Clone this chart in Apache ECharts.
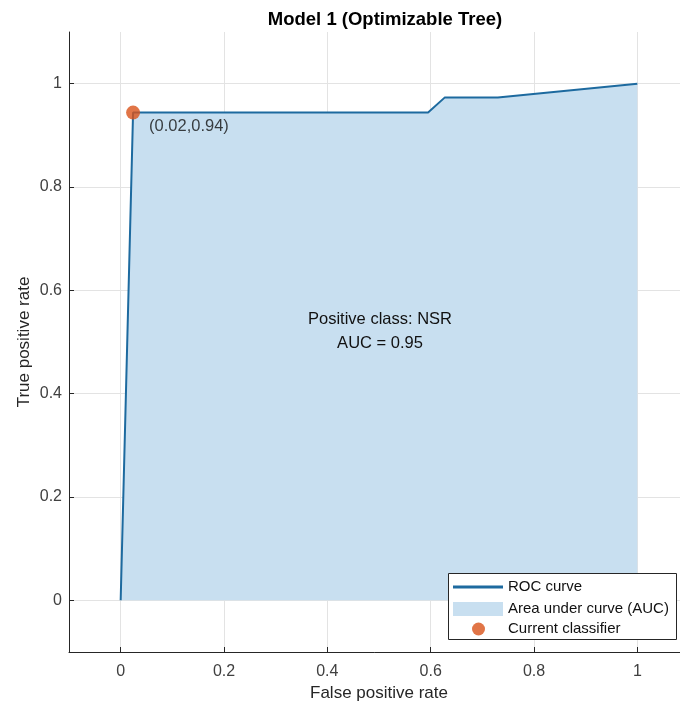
<!DOCTYPE html>
<html>
<head>
<meta charset="utf-8">
<title>Model 1 (Optimizable Tree)</title>
<script src="https://cdn.jsdelivr.net/npm/echarts@6/dist/echarts.min.js"></script>
<style>
  html, body { margin: 0; padding: 0; background: #ffffff; }
  #chart { width: 680px; height: 710px; }
</style>
</head>
<body>
<div id="chart"></div>
<script>
// ROC curve points (false positive rate, true positive rate)
const rocFpr = [0, 0.024, 0.595, 0.627, 0.73, 1];
const rocTpr = [0, 0.944, 0.944, 0.973, 0.973, 1];

// Operating point of the current classifier
const classifierPoint = [0.024, 0.944];

// Summary shown inside the plot
const positiveClass = 'NSR';
const aucValue = 0.95;

// Tick positions for both axes
const xTicks = [0, 0.2, 0.4, 0.6, 0.8, 1];
const yTicks = [0, 0.2, 0.4, 0.6, 0.8, 1];

const FONT = '"Liberation Sans", Arial, Helvetica, sans-serif';
const AXIS_COLOR = '#262626';
const LABEL_COLOR = '#404040';
const GRID_COLOR = '#e3e3e3';
const LINE_COLOR = '#1d6a9f';
const AREA_COLOR = '#c8dff0';
const POINT_COLOR = '#d95319';

const rocData = rocFpr.map((x, i) => [x, rocTpr[i]]);

const chart = echarts.init(document.getElementById('chart'), null, { renderer: 'canvas' });

const legendBase = {
  orient: 'vertical',
  left: 453,
  itemWidth: 50,
  itemGap: 0,
  selectedMode: false,
  z: 100,
  textStyle: { fontFamily: FONT, fontSize: 15, lineHeight: 18, color: '#111111' },
  padding: 0
};

chart.setOption({
  animation: false,
  backgroundColor: '#ffffff',
  title: {
    text: 'Model 1 (Optimizable Tree)',
    left: 380,
    textAlign: 'center',
    top: 5,
    textStyle: { fontFamily: FONT, fontSize: 18.5, fontWeight: 'bold', color: '#000000' }
  },
  grid: { left: 69, top: 32, width: 620, bottom: 58, containLabel: false, outerBoundsMode: 'none' },
  xAxis: {
    type: 'value',
    min: -0.1,
    max: 1.1,
    name: 'False positive rate',
    nameLocation: 'middle',
    nameGap: 33,
    nameMoveOverlap: false,
    nameTextStyle: { fontFamily: FONT, fontSize: 17, color: AXIS_COLOR },
    axisLine: { show: true, onZero: false, lineStyle: { color: AXIS_COLOR, width: 1 } },
    axisTick: { show: true, inside: true, length: 5, customValues: xTicks, lineStyle: { color: AXIS_COLOR } },
    axisLabel: {
      customValues: xTicks,
      margin: 12,
      fontFamily: FONT, fontSize: 16, color: LABEL_COLOR,
      formatter: v => String(+v.toFixed(1))
    },
    splitLine: { show: false }
  },
  yAxis: {
    type: 'value',
    min: -0.1,
    max: 1.1,
    name: 'True positive rate',
    nameLocation: 'middle',
    nameGap: 36,
    nameMoveOverlap: false,
    nameRotate: 90,
    nameTextStyle: { fontFamily: FONT, fontSize: 17, color: AXIS_COLOR },
    axisLine: { show: true, onZero: false, lineStyle: { color: AXIS_COLOR, width: 1 } },
    axisTick: { show: true, inside: true, length: 5, customValues: yTicks, lineStyle: { color: AXIS_COLOR } },
    axisLabel: {
      customValues: yTicks,
      margin: 7,
      fontFamily: FONT, fontSize: 16, color: LABEL_COLOR,
      formatter: v => String(+v.toFixed(1))
    },
    splitLine: { show: false }
  },
  legend: [
    Object.assign({}, legendBase, {
      top: 578, itemHeight: 3, data: [{ name: 'ROC curve', icon: 'rect' }]
    }),
    Object.assign({}, legendBase, {
      top: 600, itemHeight: 14, data: [{ name: 'Area under curve (AUC)', icon: 'rect', itemStyle: { color: AREA_COLOR } }]
    }),
    Object.assign({}, legendBase, {
      top: 620, left: 472, itemWidth: 13, itemHeight: 13,
      textStyle: Object.assign({}, legendBase.textStyle, { padding: [0, 0, 0, 18] }),
      data: [{ name: 'Current classifier', icon: 'circle' }]
    })
  ],
  graphic: [
    {
      type: 'rect',
      left: 448, top: 573,
      shape: { width: 228, height: 66 },
      style: { fill: '#ffffff', stroke: AXIS_COLOR, lineWidth: 1 },
      z: 50
    },
    {
      type: 'text',
      x: 380, y: 319,
      style: {
        text: 'Positive class: ' + positiveClass,
        font: '16.5px ' + FONT, fill: '#111111', align: 'center', verticalAlign: 'middle'
      },
      z: 40
    },
    {
      type: 'text',
      x: 380, y: 343,
      style: {
        text: 'AUC = ' + aucValue.toFixed(2),
        font: '16.5px ' + FONT, fill: '#111111', align: 'center', verticalAlign: 'middle'
      },
      z: 40
    }
  ],
  series: [
    {
      // grid lines at the tick positions, kept underneath the filled area
      name: 'grid',
      type: 'line',
      data: [],
      silent: true,
      z: 0,
      markLine: {
        silent: true,
        z: 0,
        symbol: 'none',
        label: { show: false },
        lineStyle: { type: 'solid', color: GRID_COLOR, width: 1 },
        data: xTicks.map(v => ({ xAxis: v })).concat(yTicks.map(v => ({ yAxis: v })))
      }
    },
    {
      name: 'Area under curve (AUC)',
      type: 'line',
      data: rocData,
      symbol: 'none',
      silent: true,
      z: 2,
      itemStyle: { color: AREA_COLOR },
      lineStyle: { width: 0, opacity: 0 },
      areaStyle: { color: AREA_COLOR, opacity: 1, origin: 0 }
    },
    {
      name: 'ROC curve',
      type: 'line',
      data: rocData,
      symbol: 'none',
      silent: true,
      z: 3,
      itemStyle: { color: LINE_COLOR },
      lineStyle: { color: LINE_COLOR, width: 2 }
    },
    {
      name: 'Current classifier',
      type: 'scatter',
      data: [classifierPoint],
      symbol: 'circle',
      symbolSize: 14,
      silent: true,
      z: 4,
      itemStyle: { color: POINT_COLOR },
      label: {
        show: true,
        position: [23, 21],
        align: 'left',
        verticalAlign: 'middle',
        fontFamily: FONT, fontSize: 16.5, color: '#111111',
        formatter: p => '(' + p.value[0].toFixed(2) + ',' + p.value[1].toFixed(2) + ')'
      }
    }
  ]
});
</script>
</body>
</html>
